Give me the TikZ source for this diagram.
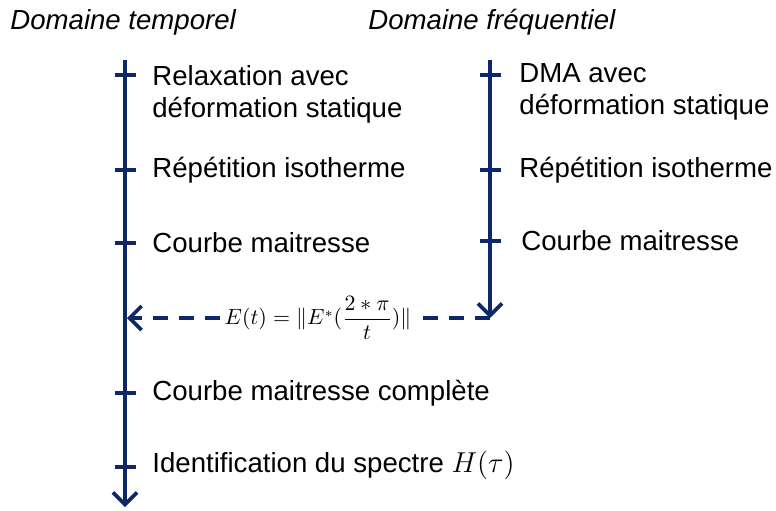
\documentclass[tikz,border=0pt]{standalone}
\usepackage{amsmath,amssymb}
\usepackage{fontspec}
\setmainfont{Liberation Sans}
\usepackage{xcolor}
\usetikzlibrary{arrows.meta}
\usetikzlibrary{positioning}
\definecolor{bleunuit}{RGB}{12,40,104}
\tikzset{
  axe/.style={draw=bleunuit, line width=1.8pt},
  fleche/.style={axe, -{Straight Barb[length=6pt, width=12pt, line width=1.8pt]}},
  pointille/.style={fleche, dash pattern=on 7.5pt off 5.5pt},
  etape/.style={anchor=west, align=left, inner sep=0pt, font=\fontsize{13.8}{16}\selectfont},
  titre/.style={anchor=west, inner sep=0pt, font=\fontsize{13.8}{16}\selectfont\itshape},
}

\begin{document}
\begin{tikzpicture}[x=0.5pt, y=-0.5pt]
  \useasboundingbox (0,0) rectangle (776,510);
  % titres
  \node[titre] (temps) at (10,22) {Domaine temporel};
  \node[titre] (freq) at (368,22) {Domaine fréquentiel};
  % axes
  \coordinate (ttop) at (125,60);
  \coordinate (tbot) at (125,507);
  \coordinate (ftop) at (490,60);
  \coordinate (fbot) at (490,318);
  \draw[fleche] (ttop) -- (tbot);
  \draw[fleche] (ftop) -- (fbot);
  \foreach \y in {75,170,243,393,467}
    \draw[axe] (115,\y) -- (136,\y);
  \foreach \y in {75,170,241}
    \draw[axe] (480,\y) -- (501,\y);
  % domaine temporel
  \node[etape] (relax) at (152,94) {Relaxation avec\\déformation statique};
  \node[etape] (trep) at (152,170) {Répétition isotherme};
  \node[etape] (tcourbe) at (152,243) {Courbe maitresse};
  \node[etape] (complete) at (152,393) {Courbe maitresse complète};
  \node[etape] (spectre) at (152,465) {Identification du spectre $H(\tau)$};
  % domaine frequentiel
  \node[etape] (dma) at (519,92) {DMA avec\\déformation statique};
  \node[etape] (frep) at (519,170) {Répétition isotherme};
  \node[etape] (fcourbe) at (521,241) {Courbe maitresse};
  % passage
  \node[inner sep=2pt, font=\fontsize{10.5}{12}\selectfont] (conv) at (318,318)
    {$E(t) = \|E^{*}(\dfrac{2*\pi}{t})\|$};
  \coordinate (cible) at (127,318);
  \draw[axe, dash pattern=on 7.5pt off 5.5pt] (fbot) -- (conv.east);
  \draw[pointille] (conv.west) -- (cible);
\end{tikzpicture}
\end{document}
